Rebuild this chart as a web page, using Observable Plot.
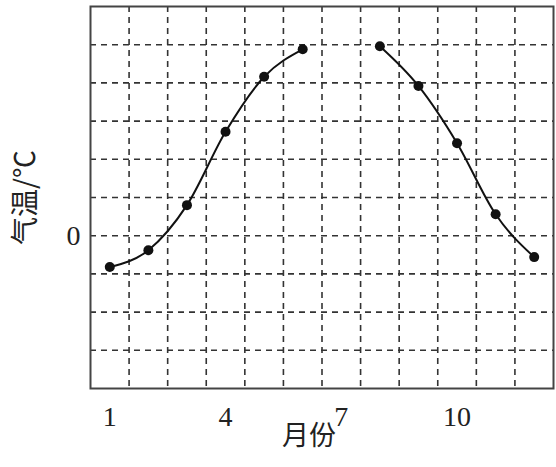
<!DOCTYPE html>
<html>
<head>
<meta charset="utf-8">
<script src="https://cdn.jsdelivr.net/npm/d3@7"></script>
<script src="https://cdn.jsdelivr.net/npm/@observablehq/plot@0.6"></script>
<style>
  html, body { margin: 0; padding: 0; background: #fff; }
  #chart svg { display: block; }
</style>
</head>
<body>
<div id="chart"></div>
<script>
// Data (temperature in °C, 5 °C per grid row; month 7 has no value)
const months = [1, 2, 3, 4, 5, 6, 7, 8, 9, 10, 11, 12];
const temps  = [-4.1, -1.9, 4.0, 13.6, 20.8, 24.4, null, 24.8, 19.6, 12.1, 2.8, -2.8];
const xTicks = [1, 4, 7, 10];
const yTicks = [0];
const gridX = [1.5, 2.5, 3.5, 4.5, 5.5, 6.5, 7.5, 8.5, 9.5, 10.5, 11.5];
const gridY = [-15, -10, -5, 0, 5, 10, 15, 20, 25];
const xLabel = "月份";
const yLabel = "气温/℃";

const data = months.map((m, i) => ({month: m, temp: temps[i]}));
const pts = data.filter(d => d.temp != null);

const serif = "'Liberation Serif', 'Noto Sans CJK SC', serif";
const cjk = "'Noto Sans CJK SC', 'Liberation Serif', sans-serif";

const chart = Plot.plot({
  width: 556,
  height: 467,
  marginLeft: 90,
  marginRight: 3,
  marginTop: 6,
  marginBottom: 79,
  style: {background: "#fff", fontFamily: serif},
  x: {domain: [0.5, 12.5]},
  y: {domain: [-20, 30]},
  marks: [
    Plot.ruleX(gridX, {stroke: "#333", strokeWidth: 1.6, strokeDasharray: "6,5"}),
    Plot.ruleY(gridY, {stroke: "#333", strokeWidth: 1.6, strokeDasharray: "6,5"}),
    Plot.frame({stroke: "#444", strokeWidth: 2}),
    Plot.line(data, {x: "month", y: "temp", stroke: "#111", strokeWidth: 2, curve: "monotone-x"}),
    Plot.dot(pts, {x: "month", y: "temp", r: 5, fill: "#111", stroke: "none"}),
    Plot.axisX(xTicks, {tickSize: 0, tickPadding: 18, fontSize: 28, fontFamily: serif, fill: "#222", label: null}),
    Plot.axisY(yTicks, {tickSize: 0, tickPadding: 10, fontSize: 28, fontFamily: serif, fill: "#222", label: null}),
    Plot.text([xLabel], {frameAnchor: "bottom", lineAnchor: "middle", textAnchor: "middle", dx: -13, dy: 48, fontSize: 27, fontFamily: cjk, fill: "#222"}),
    Plot.text([yLabel], {frameAnchor: "left", lineAnchor: "middle", textAnchor: "middle", rotate: -90, dx: -64, dy: 0, fontSize: 28, fontFamily: cjk, fill: "#222"})
  ]
});
document.getElementById("chart").appendChild(chart);
</script>
</body>
</html>
